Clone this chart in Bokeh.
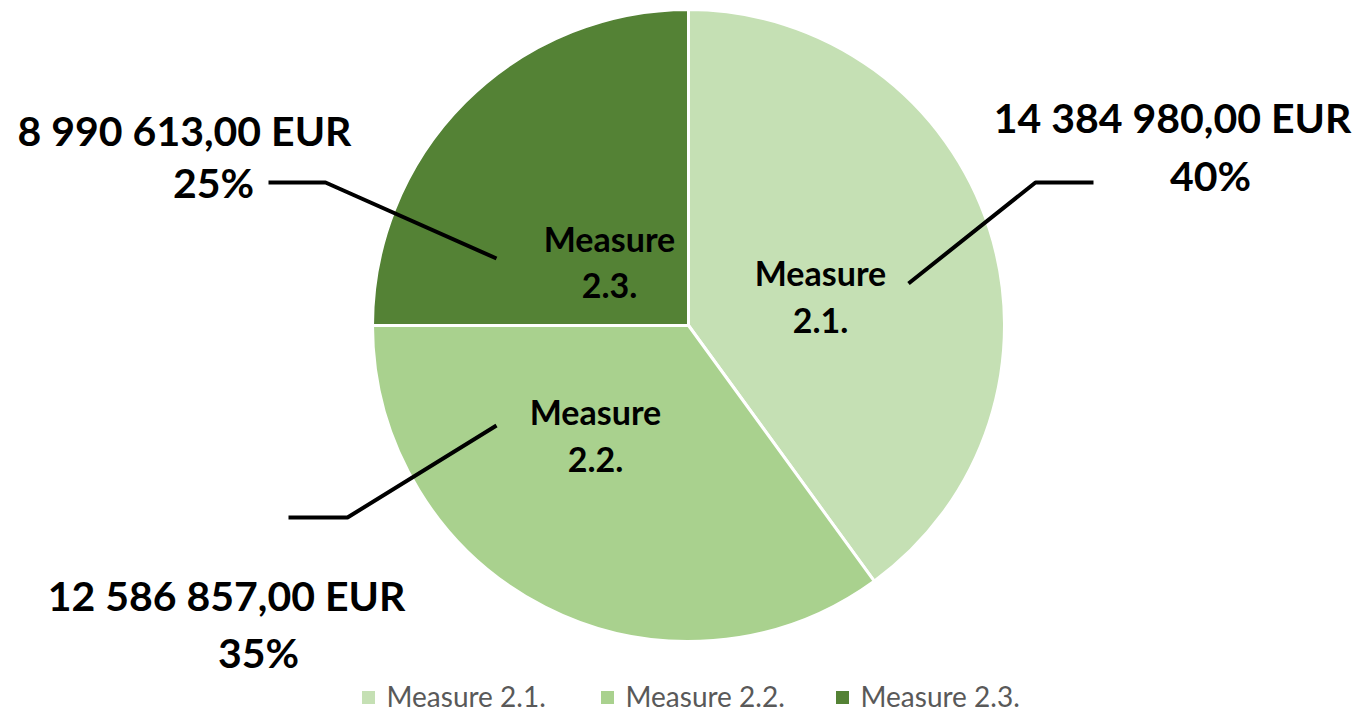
from bokeh.plotting import figure
from bokeh.models import Range1d, ColumnDataSource
from bokeh.core.properties import value
from bokeh.embed import file_html
from bokeh.resources import INLINE
import math

categories = ["Measure 2.1.", "Measure 2.2.", "Measure 2.3."]
amounts = [14384980.00, 12586857.00, 8990613.00]
amount_labels = ["14 384 980,00 EUR", "12 586 857,00 EUR", "8 990 613,00 EUR"]
colors = ["#C5E0B4", "#A9D18E", "#548235"]

W, H = 1360, 712
FONT = "Lato"

def Y(sy):
    return 714 - sy

p = figure(width=W, height=H, output_backend="svg", toolbar_location=None,
           x_range=Range1d(0, W), y_range=Range1d(714 - H, 714),
           min_border=0, outline_line_color=None)
p.axis.visible = False
p.grid.visible = False

total = sum(amounts)
cx, cy, r = 688, Y(325), 316
start = math.pi / 2
starts, ends = [], []
for a in amounts:
    sweep = 2 * math.pi * a / total
    ends.append(start)
    starts.append(start - sweep)
    start -= sweep
pct = [f"{round(100 * a / total)}%" for a in amounts]

src = ColumnDataSource(dict(x=[cx] * 3, y=[cy] * 3, s=starts, e=ends, c=colors))
p.wedge(x="x", y="y", radius=r, start_angle="s", end_angle="e", fill_color="c",
        line_color="white", line_width=3, source=src)

# leader lines (screen coordinates)
leaders = [
    ([908, 1035, 1093], [283, 182, 182]),
    ([496, 347, 288], [425, 517, 517]),
    ([496, 325, 268], [258, 182, 182]),
]
for xs, ys in leaders:
    p.line(xs, [Y(v) for v in ys], line_color="black", line_width=4)

# inner labels
inner_x = [820, 595, 609]
inner_y1 = [272, 411, 238]
inner_y2 = [320, 459, 285]
names1 = ["Measure"] * 3
names2 = [c.split(" ")[1] for c in categories]
p.text(x=inner_x + inner_x, y=[Y(v) for v in inner_y1 + inner_y2], text=names1 + names2,
       text_font=value(FONT), text_font_style="bold", text_font_size="34px",
       text_align="center", text_baseline="middle", text_color="black")

# outer labels
out_x1 = [1172, 226, 184]
out_y1 = [117, 595, 130]
out_x2 = [1210, 258, 213]
out_y2 = [175, 652, 182]
p.text(x=out_x1, y=[Y(v) for v in out_y1], text=amount_labels,
       text_font=value(FONT), text_font_style="bold", text_font_size="41px",
       text_align="center", text_baseline="middle", text_color="black")
p.text(x=out_x2, y=[Y(v) for v in out_y2], text=pct,
       text_font=value(FONT), text_font_style="bold", text_font_size="41px",
       text_align="center", text_baseline="middle", text_color="black")

# legend
leg_x = [368, 607, 842]
p.rect(x=leg_x, y=[Y(697)] * 3, width=13, height=13, fill_color=colors, line_color=None)
p.text(x=[v + 18 for v in leg_x], y=[Y(695)] * 3, text=categories,
       text_font=value(FONT), text_font_size="28px", text_color="#595959",
       text_align="left", text_baseline="middle")

open("out.html", "w").write(file_html(p, INLINE))
